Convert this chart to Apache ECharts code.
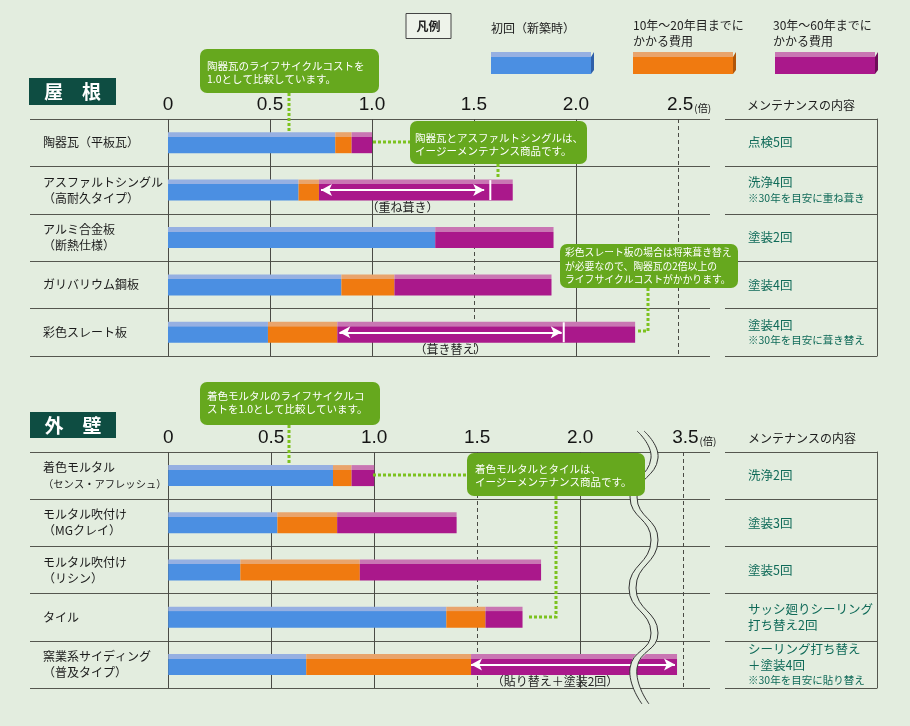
<!DOCTYPE html>
<html><head><meta charset="utf-8">
<script src="https://cdn.jsdelivr.net/npm/echarts@6/dist/echarts.min.js"></script>
<style>html,body{margin:0;padding:0;background:#e3eddf}#c{width:910px;height:726px}</style>
</head><body><div id="c"></div>
<script>
// ---------- data ----------
const seriesNames = ['初回（新築時）', '10年～20年目までにかかる費用', '30年～60年までにかかる費用'];
const legendLabels = ['初回（新築時）', '10年～20年目までに\nかかる費用', '30年～60年までに\nかかる費用'];

const roofCategories = ['陶器瓦（平板瓦）', 'アスファルトシングル\n（高耐久タイプ）', 'アルミ合金板\n（断熱仕様）', 'ガリバリウム鋼板', '彩色スレート板'];
const roofInitial = [0.82, 0.64, 1.31, 0.85, 0.49];
const roofMid     = [0.08, 0.10, 0.00, 0.26, 0.34];
const roofLong    = [0.10, 0.95, 0.58, 0.77, 1.46];
const roofMaintenance = [['点検5回'], ['洗浄4回', '※30年を目安に重ね葺き'], ['塗装2回'], ['塗装4回'], ['塗装4回', '※30年を目安に葺き替え']];
const roofTicks = [0, 0.5, 1.0, 1.5, 2.0, 2.5];
const roofDashed = [1.5, 2.5];
const roofArrows = [
  {row: 1, from: 0.75, to: 1.55, label: '（重ね葺き）', shift: 0},
  {row: 4, from: 0.84, to: 1.93, label: '（葺き替え）', shift: 0}
];
const roofSeparators = [{row: 1, at: 1.58}, {row: 4, at: 1.94}];

const wallCategories = ['着色モルタル\n（センス・アフレッシュ）', 'モルタル吹付け\n（MGクレイ）', 'モルタル吹付け\n（リシン）', 'タイル', '窯業系サイディング\n（普及タイプ）'];
const wallInitial = [0.80, 0.53, 0.35, 1.35, 0.67];
const wallMid     = [0.09, 0.29, 0.58, 0.19, 0.80];
const wallLong    = [0.11, 0.58, 0.88, 0.18, 2.00];
const wallMaintenance = [['洗浄2回'], ['塗装3回'], ['塗装5回'], ['サッシ廻りシーリング\n打ち替え2回'], ['シーリング打ち替え\n＋塗装4回', '※30年を目安に貼り替え']];
const wallTicks = [0, 0.5, 1.0, 1.5, 2.0, 3.5];
const wallDashed = [1.5, 3.5];
const wallArrows = [{row: 4, from: 1.47, to: 3.46, label: '（貼り替え＋塗装2回）', shift: 36}];
const wallBreak = {start: 2.3, end: 3.3};

// ---------- styles ----------
const BG = '#e3eddf';
const JP = '"Noto Sans CJK JP", sans-serif';
const COLORS = [
  {main: '#4b8fe2', top: '#96b0e2', side: '#2f5fa8'},
  {main: '#f07a10', top: '#e9a46c', side: '#b0560a'},
  {main: '#aa188b', top: '#c976b3', side: '#6e0c58'}
];
const LINE = '#55574f';
const TEAL = '#0f6a58';
const GREEN = '#66a81e';
const DOT = '#7cc21e';

function grad(c) {
  return new echarts.graphic.LinearGradient(0, 0, 0, 1, [
    {offset: 0, color: c.top}, {offset: 0.22, color: c.top},
    {offset: 0.23, color: c.main}, {offset: 1, color: c.main}
  ]);
}

const chart = echarts.init(document.getElementById('c'));

function tickFormatter(unitAt) {
  return function (v) {
    const s = v === 0 ? '0' : v.toFixed(1);
    return Math.abs(v - unitAt) < 1e-9 ? '{sp| }{n|' + s + '}{u|(倍)}' : '{n|' + s + '}';
  };
}
const tickRich = {
  n: {fontSize: 19, fontFamily: '"Liberation Sans", Arial, sans-serif', color: '#151515'},
  u: {fontSize: 10, fontFamily: JP, color: '#151515', verticalAlign: 'bottom', padding: [0, 0, 1, 1]},
  sp: {width: 22}
};

function valueAxis(grid, ticks, unitAt, min, max, extra) {
  return Object.assign({
    gridIndex: grid, type: 'value', position: 'top', min: min, max: max,
    axisLine: {show: false}, axisTick: {show: false}, splitLine: {show: false},
    axisLabel: {customValues: ticks, formatter: tickFormatter(unitAt), rich: tickRich, margin: 5, hideOverlap: false}
  }, extra || {});
}
function catAxis(grid, cats) {
  return {
    gridIndex: grid, type: 'category', data: cats, inverse: true,
    axisLine: {show: false}, axisTick: {show: false},
    splitLine: {show: true, interval: 0, lineStyle: {color: LINE, width: 1}},
    axisLabel: {inside: true, align: 'left', margin: 13, interval: 0, fontFamily: JP,
      formatter: v => v.split('\n').map(l => (l.length >= 11 ? '{t|' : '{r|') + l + '}').join('\n'),
      rich: {r: {fontSize: 12, lineHeight: 16, color: '#1b1b1b', fontFamily: JP},
             t: {fontSize: 10.3, lineHeight: 16, color: '#1b1b1b', fontFamily: JP}}}
  };
}
function maintText(m) {
  const parts = m[0].split('\n').map(l => '{m|' + l + '}');
  if (m[1]) parts.push('{s|' + m[1] + '}');
  return parts.join('\n');
}
function tableAxis(grid, cats, maint) {
  return {
    gridIndex: grid, type: 'category', data: cats, inverse: true,
    axisLine: {show: false}, axisTick: {show: false},
    splitLine: {show: true, interval: 0, lineStyle: {color: LINE, width: 1}},
    axisLabel: {inside: true, align: 'left', margin: 23, interval: 0,
      formatter: (v, i) => maintText(maint[i]),
      rich: {m: {fontSize: 12.5, lineHeight: 16, color: TEAL, fontFamily: JP},
             s: {fontSize: 10.5, lineHeight: 15, color: TEAL, fontFamily: JP}}}
  };
}
function tableBorder(grid, cats) {
  return {gridIndex: grid, type: 'category', data: cats, inverse: true, position: 'right',
    axisLine: {show: true, lineStyle: {color: LINE, width: 1}}, axisTick: {show: false},
    axisLabel: {show: false}, splitLine: {show: false}};
}
function gridLines(ticks, dashed) {
  return {z: 1, silent: true, symbol: 'none', animation: false, label: {show: false},
    data: ticks.map(v => ({xAxis: v, lineStyle: {color: '#4a4b45', width: 1, type: dashed.includes(v) ? [4, 3] : 'solid'}}))};
}
function arrowLines(list) {
  return {silent: true, animation: false, symbol: ['arrow', 'arrow'], symbolSize: [9, 11],
    lineStyle: {color: '#ffffff', width: 2, type: 'solid'},
    label: {show: true, position: 'insideMiddleBottom', formatter: '{b}', color: '#222', fontSize: 12, fontFamily: JP, distance: 11},
    data: list.map(a => [{name: a.label, coord: [a.from, a.row], label: {padding: [0, a.shift, 0, 0]}}, {coord: [a.to, a.row]}])};
}
function separators(list) {
  return {silent: true, animation: false, symbol: 'rect', symbolSize: [2, 20], label: {show: false},
    itemStyle: {color: '#ffffff'}, data: list.map(s => ({coord: [s.at, s.row]}))};
}
function bar(name, data, ci, xi, yi, stack, extra) {
  return Object.assign({type: 'bar', name: name, data: data, stack: stack, xAxisIndex: xi, yAxisIndex: yi,
    barWidth: 21, itemStyle: {color: grad(COLORS[ci])}, emphasis: {disabled: true}, z: 2}, extra || {});
}

// ---------- graphics (annotations) ----------
function callout(x, y, w, h, text, tx, ty, fs) {
  return [
    {type: 'rect', z: 12, shape: {x: x, y: y, width: w, height: h, r: 7}, style: {fill: GREEN}},
    {type: 'text', z: 13, x: tx, y: ty, style: {text: text, fill: '#ffffff', fontSize: fs || 10.5, lineHeight: 13.5, fontFamily: JP}}
  ];
}
function dotted(points) {
  return {type: 'polyline', z: 11, shape: {points: points}, style: {stroke: DOT, lineWidth: 3, lineDash: [3, 2], fill: null}};
}
const wave = [[637,431],[651,458],[630,497],[651,540],[629,588],[651,633],[630,668],[642,704]];
const swatchX = [491, 633, 775];
const graphics = [].concat(
  // legend
  [{type: 'rect', shape: {x: 406, y: 13.5, width: 45, height: 25}, style: {fill: '#eef3ea', stroke: '#444', lineWidth: 1}},
   {type: 'text', x: 428.5, y: 26, style: {text: '凡例', fontSize: 12, fontWeight: 'bold', fill: '#222', fontFamily: JP, align: 'center', verticalAlign: 'middle'}}],
  legendLabels.map((t, i) => ({type: 'text', x: [491, 633, 773][i], y: i === 0 ? 20 : 17,
    style: {text: t, fontSize: 12, lineHeight: 16, fill: '#222', fontFamily: JP}})),
  COLORS.map((c, i) => ({type: 'rect', shape: {x: swatchX[i], y: 52, width: 100, height: 22},
    style: {fill: grad(c)}})),
  COLORS.map((c, i) => ({type: 'polygon', shape: {points: [[swatchX[i] + 100, 57], [swatchX[i] + 103, 52], [swatchX[i] + 103, 70], [swatchX[i] + 100, 74]]},
    style: {fill: c.side}})),
  // section headers
  [{type: 'rect', shape: {x: 29, y: 78, width: 87, height: 27}, style: {fill: '#0e4d42'}},
   {type: 'text', x: 72.5, y: 92, style: {text: '屋　根', fontSize: 19, fontWeight: 'bold', fill: '#fff', fontFamily: JP, align: 'center', verticalAlign: 'middle'}},
   {type: 'rect', shape: {x: 30, y: 412, width: 86, height: 26}, style: {fill: '#0e4d42'}},
   {type: 'text', x: 73, y: 425.5, style: {text: '外　壁', fontSize: 19, fontWeight: 'bold', fill: '#fff', fontFamily: JP, align: 'center', verticalAlign: 'middle'}},
   {type: 'text', x: 747, y: 105, style: {text: 'メンテナンスの内容', fontSize: 12, fill: '#1b1b1b', fontFamily: JP, verticalAlign: 'middle'}},
   {type: 'text', x: 748, y: 438, style: {text: 'メンテナンスの内容', fontSize: 12, fill: '#1b1b1b', fontFamily: JP, verticalAlign: 'middle'}}],
  // wave break
  [{type: 'polyline', z: 10, shape: {points: wave.map(p => [p[0] + 3.5, p[1]]), smooth: 0.5}, style: {stroke: BG, lineWidth: 7, fill: null}},
   {type: 'polyline', z: 10, shape: {points: wave, smooth: 0.5}, style: {stroke: '#333', lineWidth: 1, fill: null}},
   {type: 'polyline', z: 10, shape: {points: wave.map(p => [p[0] + 7, p[1]]), smooth: 0.5}, style: {stroke: '#333', lineWidth: 1, fill: null}}],
  // callouts + connectors
  [dotted([[289, 93], [289, 132]]),
   dotted([[373, 142], [410, 142]]), dotted([[498, 164], [498, 178]]),
   dotted([[648, 288], [648, 331], [638, 331]]),
   dotted([[289, 425], [289, 464]]),
   dotted([[373, 475], [467, 475]]), dotted([[556, 496], [556, 617], [527, 617]])],
  callout(200, 49, 179, 44, '陶器瓦のライフサイクルコストを\n1.0として比較しています。', 207, 59),
  callout(410, 121, 177, 43, '陶器瓦とアスファルトシングルは、\nイージーメンテナンス商品です。', 415, 131),
  callout(560, 244, 178, 44, '彩色スレート板の場合は将来葺き替え\nが必要なので、陶器瓦の2倍以上の\nライフサイクルコストがかかります。', 565, 246, 9.8),
  callout(200, 382, 180, 43, '着色モルタルのライフサイクルコ\nストを1.0として比較しています。', 207, 389),
  callout(467, 453, 178, 43, '着色モルタルとタイルは、\nイージーメンテナンス商品です。', 475, 462)
);

const option = {
  backgroundColor: BG,
  animation: false,
  textStyle: {fontFamily: JP},
  grid: [
    {left: 30, top: 119, width: 680, height: 237},
    {left: 725, top: 119, width: 152, height: 237},
    {left: 30, top: 452, width: 680, height: 236},
    {left: 725, top: 452, width: 152, height: 236}
  ],
  xAxis: [
    valueAxis(0, roofTicks, 2.5, -0.6765, 2.657),
    {gridIndex: 1, type: 'value', show: false, min: 0, max: 1},
    valueAxis(2, wallTicks, 3.5, -0.671, 3.63, {breaks: [{start: wallBreak.start, end: wallBreak.end, gap: 0}], breakArea: {show: false}}),
    {gridIndex: 3, type: 'value', show: false, min: 0, max: 1}
  ],
  yAxis: [
    catAxis(0, roofCategories),
    tableAxis(1, roofCategories, roofMaintenance),
    tableBorder(1, roofCategories),
    catAxis(2, wallCategories),
    tableAxis(3, wallCategories, wallMaintenance),
    tableBorder(3, wallCategories)
  ],
  series: [
    bar(seriesNames[0], roofInitial, 0, 0, 0, 'roof', {markLine: gridLines(roofTicks, roofDashed)}),
    bar(seriesNames[1], roofMid, 1, 0, 0, 'roof'),
    bar(seriesNames[2], roofLong, 2, 0, 0, 'roof', {markLine: arrowLines(roofArrows), markPoint: separators(roofSeparators)}),
    bar(seriesNames[0], wallInitial, 0, 2, 3, 'wall', {markLine: gridLines(wallTicks, wallDashed)}),
    bar(seriesNames[1], wallMid, 1, 2, 3, 'wall'),
    bar(seriesNames[2], wallLong, 2, 2, 3, 'wall', {markLine: arrowLines(wallArrows)})
  ],
  graphic: graphics
};
chart.setOption(option);
</script></body></html>
